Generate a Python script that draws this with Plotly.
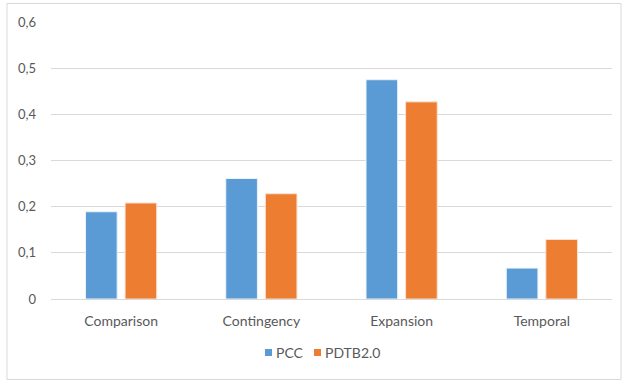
import plotly.graph_objects as go

# Relation categories and the share of each in the two corpora
categories = ["Comparison", "Contingency", "Expansion", "Temporal"]
pcc = [0.189, 0.261, 0.475, 0.067]
pdtb = [0.208, 0.228, 0.427, 0.129]
series_names = ["PCC", "PDTB2.0"]

tick_vals = [0, 0.1, 0.2, 0.3, 0.4, 0.5, 0.6]
tick_text = ["0", "0,1", "0,2", "0,3", "0,4", "0,5", "0,6"]

BLUE = "#5B9BD5"
ORANGE = "#ED7D31"
TEXT = "#595959"
GRID = "#D9D9D9"
FONT = "Lato, 'Open Sans', sans-serif"

W, H = 625, 381
ML, MR, MT, MB = 51, 13, 22, 82
pw = W - ML - MR
ph = H - MT - MB


def px_x(x):
    return (x - ML) / pw


def px_y(y):
    return (H - MB - y) / ph


fig = go.Figure()
fig.add_trace(go.Bar(
    name=series_names[0], x=categories, y=pcc,
    marker=dict(color=BLUE, line=dict(color="#EAF2FA", width=1)),
))
fig.add_trace(go.Bar(
    name=series_names[1], x=categories, y=pdtb,
    marker=dict(color=ORANGE, line=dict(color="#FBE2D3", width=1)),
))

fig.update_layout(
    width=W, height=H,
    margin=dict(l=ML, r=MR, t=MT, b=MB),
    paper_bgcolor="white", plot_bgcolor="white",
    separators=",.",
    font=dict(family=FONT, size=13, color=TEXT),
    barmode="group", bargap=0.436, bargroupgap=0.2,
    showlegend=False,
    xaxis=dict(
        showgrid=False, showline=False, zeroline=False,
        ticks="", ticklabelstandoff=12,
        tickfont=dict(size=14, color=TEXT),
    ),
    yaxis=dict(
        range=[0, 0.6], tickvals=tick_vals, ticktext=tick_text,
        showgrid=True, gridcolor=GRID, gridwidth=1,
        zeroline=True, zerolinecolor=GRID, zerolinewidth=1,
        showline=False, ticks="", ticklabelstandoff=14,
        tickfont=dict(size=13, color=TEXT),
    ),
)

# Compact legend below the axis: square swatch followed by the series name
legend_y = 352.5
for name, col, sx in [(series_names[0], BLUE, 265), (series_names[1], ORANGE, 314)]:
    fig.add_shape(
        type="rect", xref="paper", yref="paper",
        x0=px_x(sx), x1=px_x(sx + 7),
        y0=px_y(legend_y + 3.5), y1=px_y(legend_y - 3.5),
        line=dict(width=0), fillcolor=col,
    )
    fig.add_annotation(
        text=name, xref="paper", yref="paper",
        x=px_x(sx + 9), y=px_y(legend_y),
        xanchor="left", yanchor="middle", showarrow=False,
        font=dict(family=FONT, size=14, color=TEXT),
    )

# Light frame around the whole chart area
fig.add_shape(
    type="rect", xref="paper", yref="paper",
    x0=px_x(7), x1=px_x(621),
    y0=px_y(379.5), y1=px_y(3.5),
    line=dict(color="#D9D9D9", width=1), fillcolor="rgba(0,0,0,0)",
    layer="below",
)

fig.write_html("out.html")
